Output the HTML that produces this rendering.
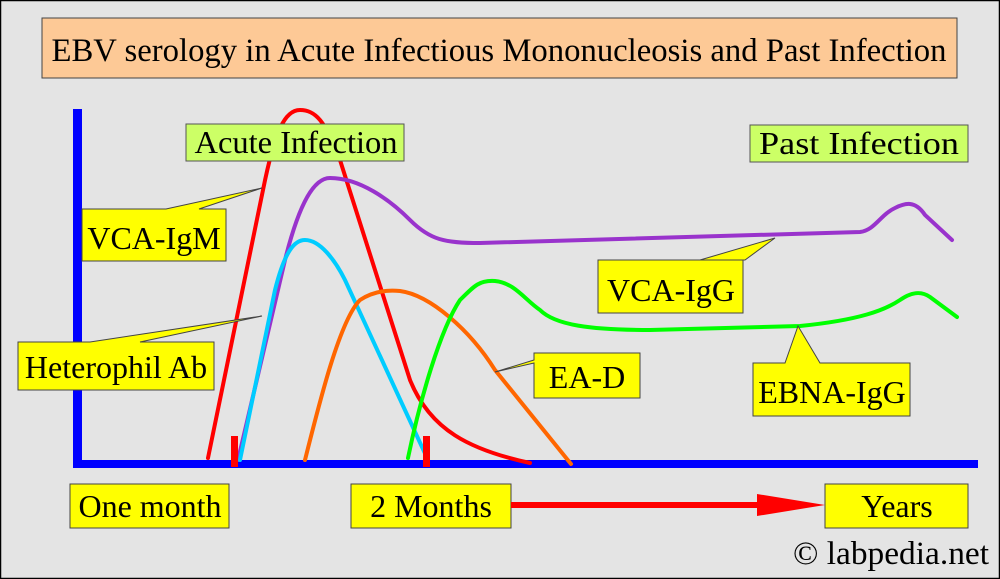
<!DOCTYPE html>
<html><head><style>
html,body{margin:0;padding:0;background:#e4e4e4}
svg{display:block}
text{font-family:"Liberation Serif",serif;fill:#000}
</style></head><body>
<svg width="1000" height="579" viewBox="0 0 1000 579">
<rect x="0.5" y="0.5" width="999" height="578" fill="#e4e4e4" stroke="#000" stroke-width="1.5"/>
<rect x="42" y="18" width="915" height="60" fill="#fdc996" stroke="#444" stroke-width="1"/>
<text x="499" y="61" font-size="32.5" text-anchor="middle" textLength="895" lengthAdjust="spacingAndGlyphs">EBV serology in Acute Infectious Mononucleosis and Past Infection</text>

<rect x="73" y="109" width="9" height="359" fill="#0000ff"/>
<rect x="73" y="460" width="905" height="8" fill="#0000ff"/>

<g fill="none" stroke-width="4" stroke-linecap="round">
<path d="M208,458 L263,190 C275,130 285,110 300,110 C315,110 325,120 340,160 L410,380 C430,430 470,450 530,463" stroke="#ff0000"/>
<path d="M238,460 L285,260 C300,200 315,178 330,178 C360,178 390,200 410,220 C430,240 445,243 480,243 L860,232 C875,230 880,215 895,208 C905,203 915,200 925,215 L952,240" stroke="#9933cc"/>
<path d="M240,460 L275,290 C285,250 295,240 305,240 C320,240 335,260 345,280 L428,460" stroke="#00ccff"/>
<path d="M305,460 C320,400 340,320 360,300 C375,290 390,290 400,291 C430,295 470,330 495,370 L571,464" stroke="#ff6600"/>
<path d="M408,458 C420,400 440,330 460,300 C475,285 480,280 495,281 C515,283 525,300 540,310 C555,325 590,330 650,330 L800,326 C860,320 885,310 900,300 C910,293 920,290 930,297 L957,317" stroke="#00ff00"/>
</g>
<rect x="231" y="436" width="7" height="31" fill="#ff0000"/>
<rect x="423" y="436" width="7" height="31" fill="#ff0000"/>

<rect x="186" y="124" width="218" height="37" fill="#ccff66" stroke="#555"/>
<text x="296" y="153" font-size="32" text-anchor="middle" textLength="203" lengthAdjust="spacingAndGlyphs">Acute Infection</text>
<rect x="750" y="125" width="218" height="37" fill="#ccff66" stroke="#555"/>
<text x="859" y="154" font-size="32" text-anchor="middle" textLength="200" lengthAdjust="spacingAndGlyphs">Past Infection</text>

<g fill="#ffff00" stroke="#444" stroke-width="1">
<path d="M82,209 L166,209 L262,188 L199,209 L226,209 L226,261 L82,261 Z"/>
<path d="M18,342 L90,342 L262,316 L140,342 L214,342 L214,390 L18,390 Z"/>
<path d="M598,260 L745,260 L775,238 L700,260 L743,260 L743,313 L598,313 Z"/>
<path d="M534,353 L640,353 L640,398 L534,398 L534,363 L495,372 L534,360 Z"/>
<path d="M753,363 L785,363 L798,326 L820,363 L910,363 L910,416 L753,416 Z"/>
<rect x="70" y="484" width="159" height="44"/>
<rect x="351" y="484" width="160" height="44"/>
<rect x="825" y="484" width="143" height="44"/>
</g>
<g font-size="32" text-anchor="middle">
<text x="154" y="249">VCA-IgM</text>
<text x="116" y="378">Heterophil Ab</text>
<text x="671" y="301">VCA-IgG</text>
<text x="587" y="388">EA-D</text>
<text x="832" y="403">EBNA-IgG</text>
<text x="150" y="517">One month</text>
<text x="431" y="517">2 Months</text>
<text x="897" y="517">Years</text>
</g>

<rect x="511" y="502" width="250" height="6" fill="#ff0000"/>
<path d="M757,494 L825,505 L757,516 Z" fill="#ff0000"/>

<text x="793" y="564" font-size="33" textLength="196" lengthAdjust="spacingAndGlyphs">© labpedia.net</text>
</svg>
</body></html>
